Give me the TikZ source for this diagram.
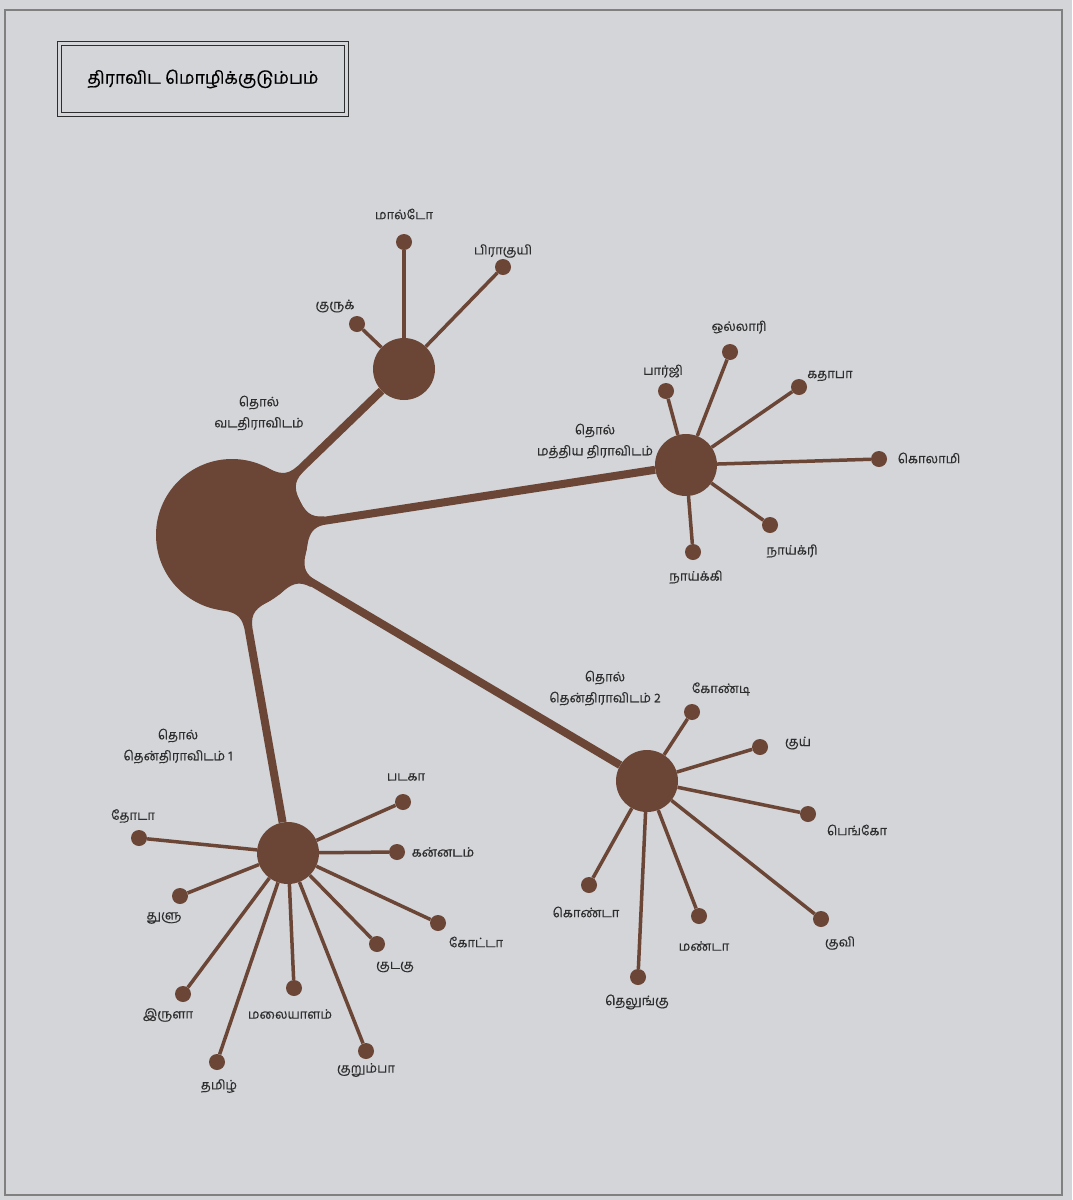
\documentclass[tikz,border=0pt]{standalone}
\usepackage{fontspec}
\setmainfont[Script=Tamil, FakeBold=0.4]{Hind Madurai}
\usetikzlibrary{positioning}
\definecolor{brn}{HTML}{6b4535}
\definecolor{pg}{HTML}{d3d5d9}
\definecolor{ink}{HTML}{2e2e2e}

\begin{document}
\begin{tikzpicture}[x=1pt, y=-1pt, font=\fontsize{13}{21}\selectfont, text=ink,
  hub/.style={circle, fill=brn, inner sep=0, minimum size=62pt},
  leaf/.style={circle, fill=brn, inner sep=0, minimum size=16pt},
  limb/.style={draw=brn, line width=8pt},
  twig/.style={draw=brn, line width=3.5pt},
  lbl/.style={inner sep=1pt, align=center}]
\useasboundingbox (0,0) rectangle (1072,1200);
\fill[pg] (0,0) rectangle (1072,1200);
\draw[gray, line width=1.2pt] (5,10) rectangle (1062,1195);

% title
\node[draw=ink, double=pg, double distance=3.5pt, line width=1pt, minimum width=287pt,
  minimum height=71pt, text=black, font=\fontsize{17.5}{20}\selectfont] (ttl) at (203,79) {திராவிட மொழிக்குடும்பம்};

% root and its flared joints
\coordinate (r0) at (232,535);
\foreach \a in {44,9,-31,-80}
  \fill[brn, shift={(r0)}, rotate=\a] (71,-27) .. controls (76,-11) and (80,-5) .. (94,-4)
    -- (94,4) .. controls (80,5) and (76,11) .. (71,27) -- cycle;
\node[circle, fill=brn, inner sep=0, minimum size=152pt] (root) at (r0) {};

\node[hub] (hn) at (404,369) {};
\node[hub] (hc) at (686,465) {};
\node[hub] (ht) at (647,781) {};
\node[hub] (hs) at (288,853) {};
\foreach \h in {hn,hc,ht,hs} \draw[limb] (root) -- (\h);

% north
\node[lbl] (hn-t) at (259,413) {தொல்\\வடதிராவிடம்};
\node[leaf] (mal) at (404,242) {};
\node[leaf] (bra) at (503,267) {};
\node[leaf] (krk) at (357,324) {};
\node[lbl] (mal-t) at (404,214) {மால்டோ};
\node[lbl] (bra-t) at (503,251) {பிராகுயி};
\node[lbl] (krk-t) at (335,306) {குருக்};
\foreach \l in {mal,bra,krk} \draw[twig] (hn) -- (\l);

% central
\node[lbl] (hc-t) at (595,441) {தொல்\\மத்திய திராவிடம்};
\node[leaf] (par) at (666,391) {};
\node[leaf] (oll) at (730,352) {};
\node[leaf] (kat) at (799,387) {};
\node[leaf] (kol) at (879,459) {};
\node[leaf] (nkr) at (770,525) {};
\node[leaf] (nki) at (693,552) {};
\node[lbl] (par-t) at (663,371) {பார்ஜி};
\node[lbl] (oll-t) at (739,327) {ஒல்லாரி};
\node[lbl] (kat-t) at (830,376) {கதாபா};
\node[lbl] (kol-t) at (929,458) {கொலாமி};
\node[lbl] (nkr-t) at (792,551) {நாய்க்ரி};
\node[lbl] (nki-t) at (696,577) {நாய்க்கி};
\foreach \l in {par,oll,kat,kol,nkr,nki} \draw[twig] (hc) -- (\l);

% south 2
\node[lbl] (ht-t) at (605,688) {தொல்\\தென்திராவிடம் 2};
\node[leaf] (gon) at (692,712) {};
\node[leaf] (kui) at (760,747) {};
\node[leaf] (pen) at (808,814) {};
\node[leaf] (kuv) at (821,919) {};
\node[leaf] (man) at (699,916) {};
\node[leaf] (tel) at (638,977) {};
\node[leaf] (kon) at (589,885) {};
\node[lbl] (gon-t) at (721,689) {கோண்டி};
\node[lbl] (kui-t) at (798,743) {குய்};
\node[lbl] (pen-t) at (857,830) {பெங்கோ};
\node[lbl] (kuv-t) at (840,943) {குவி};
\node[lbl] (man-t) at (704,946) {மண்டா};
\node[lbl] (tel-t) at (637,1002) {தெலுங்கு};
\node[lbl] (kon-t) at (586,912) {கொண்டா};
\foreach \l in {gon,kui,pen,kuv,man,tel,kon} \draw[twig] (ht) -- (\l);

% south 1
\node[lbl] (hs-t) at (178,746) {தொல்\\தென்திராவிடம் 1};
\node[leaf] (tod) at (139,838) {};
\node[leaf] (bad) at (403,802) {};
\node[leaf] (kan) at (397,852) {};
\node[leaf] (kot) at (438,923) {};
\node[leaf] (kod) at (377,944) {};
\node[leaf] (krm) at (366,1051) {};
\node[leaf] (mly) at (294,988) {};
\node[leaf] (tam) at (217,1062) {};
\node[leaf] (iru) at (183,994) {};
\node[leaf] (tul) at (180,896) {};
\node[lbl] (tod-t) at (133,816) {தோடா};
\node[lbl] (bad-t) at (406,777) {படகா};
\node[lbl] (kan-t) at (443,852) {கன்னடம்};
\node[lbl] (kot-t) at (476,942) {கோட்டா};
\node[lbl] (kod-t) at (395,967) {குடகு};
\node[lbl] (krm-t) at (366,1070) {குறும்பா};
\node[lbl] (mly-t) at (290,1014) {மலையாளம்};
\node[lbl] (tam-t) at (219,1086) {தமிழ்};
\node[lbl] (iru-t) at (168,1015) {இருளா};
\node[lbl] (tul-t) at (164,918) {துளு};
\foreach \l in {tod,bad,kan,kot,kod,krm,mly,tam,iru,tul} \draw[twig] (hs) -- (\l);
\end{tikzpicture}
\end{document}
